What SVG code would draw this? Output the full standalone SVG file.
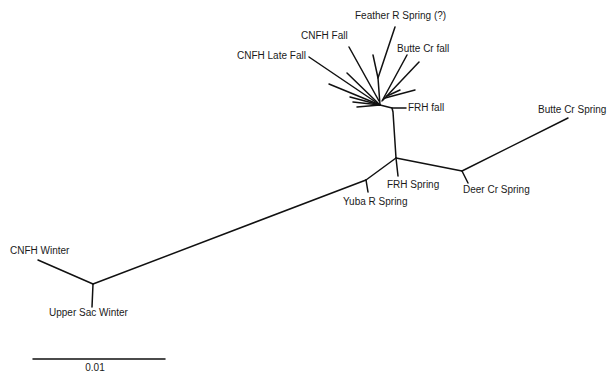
<svg xmlns="http://www.w3.org/2000/svg" width="608" height="376" viewBox="0 0 608 376">
<style>
.e{stroke:#111;stroke-width:1.5;fill:none;stroke-linecap:round;stroke-linejoin:round}
.t{font-family:"Liberation Sans",Arial,sans-serif;font-size:10px;fill:#1a1a1a}
</style>
<rect width="608" height="376" fill="#fff"/>
<g id="connectors">
<path class="e" d="M309,57 L380,105"/>
<path class="e" d="M349,47 L379,101"/>
<path class="e" d="M380,105 L378,78 L395,27"/>
<path class="e" d="M378,78 L373,55"/>
<path class="e" d="M407,55 L382,101"/>
<path class="e" d="M419,62 L383,100"/>
<path class="e" d="M415,90 L385,98"/>
<path class="e" d="M400,90 L387,96"/>
<path class="e" d="M347,73 L380,105"/>
<path class="e" d="M329,84 L380,105"/>
<path class="e" d="M350,97 L380,105"/>
<path class="e" d="M353,102 L380,105"/>
<path class="e" d="M357,107 L380,105"/>
<path class="e" d="M380,105 L392,108 L406,108"/>
<path class="e" d="M392,108 L393,112 L396,158"/>
<path class="e" d="M396,158 L398,176"/>
<path class="e" d="M396,158 L366,180"/>
<path class="e" d="M366,180 L368,192"/>
<path class="e" d="M396,158 L462,171"/>
<path class="e" d="M462,171 L468,183"/>
<path class="e" d="M462,171 L568,118"/>
<path class="e" d="M366,180 L93,284"/>
<path class="e" d="M93,284 L38,260"/>
<path class="e" d="M93,284 L92,307"/>
<path class="e" d="M33,359 L165,359"/>
</g>
<g id="feather-r-spring"><text class="t" x="355" y="19">Feather R Spring (?)</text></g>
<g id="cnfh-fall"><text class="t" x="301" y="39">CNFH Fall</text></g>
<g id="butte-cr-fall"><text class="t" x="397" y="52">Butte Cr fall</text></g>
<g id="cnfh-late-fall"><text class="t" x="237" y="59">CNFH Late Fall</text></g>
<g id="frh-fall"><text class="t" x="408" y="111">FRH fall</text></g>
<g id="frh-spring"><text class="t" x="387" y="188">FRH Spring</text></g>
<g id="yuba-r-spring"><text class="t" x="343" y="205">Yuba R Spring</text></g>
<g id="deer-cr-spring"><text class="t" x="463" y="193">Deer Cr Spring</text></g>
<g id="butte-cr-spring"><text class="t" x="538" y="113">Butte Cr Spring</text></g>
<g id="cnfh-winter"><text class="t" x="10" y="254">CNFH Winter</text></g>
<g id="upper-sac-winter"><text class="t" x="49" y="316">Upper Sac Winter</text></g>
<g id="scale"><text class="t" x="95" y="371" text-anchor="middle">0.01</text></g>
</svg>
